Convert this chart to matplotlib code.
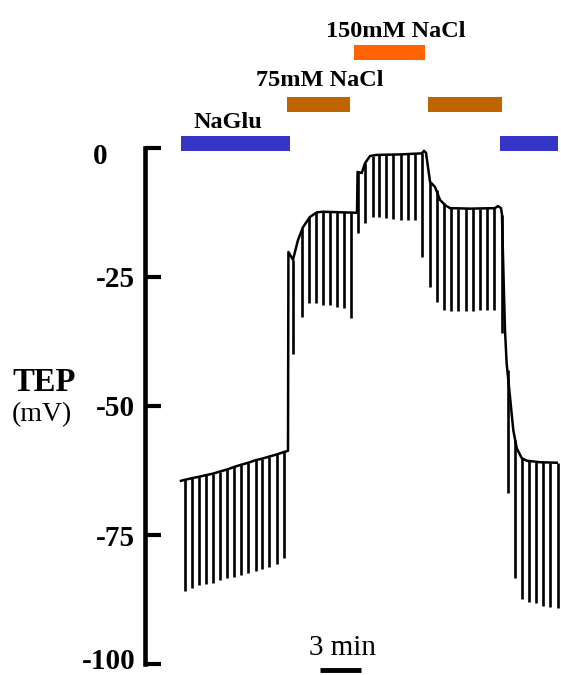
import matplotlib.pyplot as plt
from matplotlib.transforms import ScaledTranslation

# trace baseline (time in min, TEP in mV)
base_t = [2.60, 2.89, 3.38, 3.93, 4.41, 4.94, 5.42, 5.95, 6.46, 6.94, 7.47, 8.00, 8.48, 8.99, 9.52, 10.07, 10.34,
          10.37, 10.70, 11.06, 11.42, 11.93, 12.44, 12.87, 14.10, 15.33,
          15.37, 15.67, 15.91, 16.27, 16.75, 18.44, 20.01, 20.17, 20.32,
          20.61, 20.97, 21.33, 21.69, 22.05, 23.50, 25.31, 25.52, 25.74, 25.81, 25.95,
          26.03, 26.15, 26.39, 26.63, 26.88, 27.24, 27.60, 28.56, 29.77]
base_v = [-64.5, -64.3, -64.0, -63.7, -63.4, -63.1, -62.7, -62.3, -61.8, -61.4, -61.0, -60.5, -60.2, -59.8, -59.4, -58.9, -58.7,
          -20.2, -21.7, -17.9, -15.4, -13.4, -12.5, -12.4, -12.5, -12.6,
          -4.7, -4.9, -3.0, -1.6, -1.4, -1.3, -1.1, -0.6, -1.0,
          -6.6, -7.6, -10.1, -11.1, -11.7, -11.8, -11.7, -11.3, -11.7, -12.9, -27.6,
          -35.3, -41.8, -48.2, -54.7, -58.2, -60.1, -60.6, -60.9, -61.0]

# current pulses: time, top and bottom of each deflection
pulse_t = [2.89, 3.38, 3.93, 4.41, 4.94, 5.42, 5.95, 6.46, 6.94, 7.47, 8.00, 8.48, 8.99, 9.52, 10.07,
           10.70, 11.33, 11.88, 12.36, 12.85, 13.38, 13.86, 14.39, 14.90,
           15.42, 15.91, 16.46, 16.94, 17.43, 17.95, 18.49, 18.99, 19.52, 20.01,
           20.61, 21.09, 21.62, 22.13, 22.65, 23.19, 23.69, 24.22, 24.75, 25.26, 25.79,
           26.27, 26.75, 27.24, 27.79, 28.27, 28.80, 29.28, 29.84]
pulse_top = [-64.3, -64.0, -63.7, -63.4, -63.1, -62.7, -62.3, -61.8, -61.4, -61.0, -60.5, -60.2, -59.8, -59.4, -58.9,
             -21.7, -15.6, -13.4, -12.5, -12.5, -12.5, -12.5, -12.5, -12.6,
             -4.7, -3.0, -1.6, -1.4, -1.4, -1.3, -1.3, -1.2, -1.2, -1.0,
             -6.6, -8.2, -10.7, -11.7, -11.8, -11.8, -11.8, -11.8, -11.7, -11.7, -13.0,
             -43.1, -56.6, -60.1, -60.7, -60.8, -60.9, -61.0, -61.0]
pulse_bottom = [-85.8, -85.3, -84.7, -84.4, -84.2, -83.7, -83.4, -83.1, -82.7, -82.4, -81.9, -81.5, -81.2, -80.6, -79.5,
                -40.0, -32.7, -30.1, -30.1, -30.5, -30.5, -30.8, -31.0, -33.0,
                -16.5, -14.5, -13.4, -13.4, -13.6, -13.8, -14.0, -14.0, -14.0, -21.2,
                -26.9, -29.8, -31.4, -31.6, -31.6, -31.6, -31.6, -31.4, -31.4, -31.4, -35.9,
                -66.9, -83.4, -87.3, -87.9, -88.1, -88.7, -89.0, -89.2]

# solution bars
sol_start = [2.60, 10.27, 15.11, 20.46, 25.67]
sol_end = [10.48, 14.82, 20.25, 25.81, 29.86]
sol_name = ['NaGlu', '75mM NaCl', '150mM NaCl', '75mM NaCl', 'NaGlu']
sol_color = {'NaGlu': '#3535C8', '75mM NaCl': '#C06400', '150mM NaCl': '#FF6400'}
sol_level = {'NaGlu': 0.81, '75mM NaCl': 8.4, '150mM NaCl': 18.4}

yticks = [0, -25, -50, -75, -100]

serif = 'Liberation Serif'

fig = plt.figure(figsize=(5.61, 6.75), dpi=100)
ax = fig.add_axes([145 / 561, 0, 416 / 561, 1])
ax.set_xlim(0, 416 / 13.83)
ax.set_ylim(-102.1, 28.6)

ax.plot(base_t, base_v, color='black', lw=1.8, solid_joinstyle='round')
ax.vlines(pulse_t, pulse_bottom, pulse_top, color='black', lw=1.9)

for s, e, n in zip(sol_start, sol_end, sol_name):
    ax.barh(sol_level[n], e - s, left=s, height=2.9, color=sol_color[n], clip_on=False)

ax.text(6.0, 3.76, 'NaGlu', ha='center', va='baseline', fontsize=17.5, fontweight='bold', family=serif)
ax.text(12.65, 11.95, '75mM NaCl', ha='center', va='baseline', fontsize=17.5, fontweight='bold', family=serif)
ax.text(18.15, 21.5, '150mM NaCl', ha='center', va='baseline', fontsize=17.5, fontweight='bold', family=serif)

# 3 min scale bar
ax.plot([12.65, 15.65], [-101.1, -101.1], color='black', lw=3.5, solid_capstyle='butt', clip_on=False)
ax.text(14.3, -98.3, '3 min', ha='center', va='baseline', fontsize=21, family=serif)

for sp in ['top', 'right', 'bottom']:
    ax.spines[sp].set_visible(False)
ax.spines['left'].set_bounds(-100, 0)
ax.spines['left'].set_linewidth(3.3)
ax.set_xticks([])
ax.set_yticks(yticks)
ax.set_yticklabels([str(v) for v in yticks])
ax.tick_params(axis='y', direction='in', length=11.5, width=3, pad=7)
for lab in ax.get_yticklabels():
    lab.set_fontfamily(serif)
    lab.set_fontweight('bold')
    lab.set_fontsize(21)
# the "0" label sits further left in the original
ticks = ax.yaxis.get_major_ticks()
zero = ticks[0].label1
zero.set_transform(zero.get_transform() + ScaledTranslation(-0.28, -0.06, fig.dpi_scale_trans))
bottom = ticks[-1].label1
bottom.set_transform(bottom.get_transform() + ScaledTranslation(0, 0.06, fig.dpi_scale_trans))

fig.text(12 / 561, 1 - 391 / 675, 'TEP', ha='left', va='baseline', fontsize=23.5, fontweight='bold', family=serif)
fig.text(12 / 561, 1 - 421 / 675, '(mV)', ha='left', va='baseline', fontsize=20, family=serif)

fig.savefig('out.png', dpi=100)
